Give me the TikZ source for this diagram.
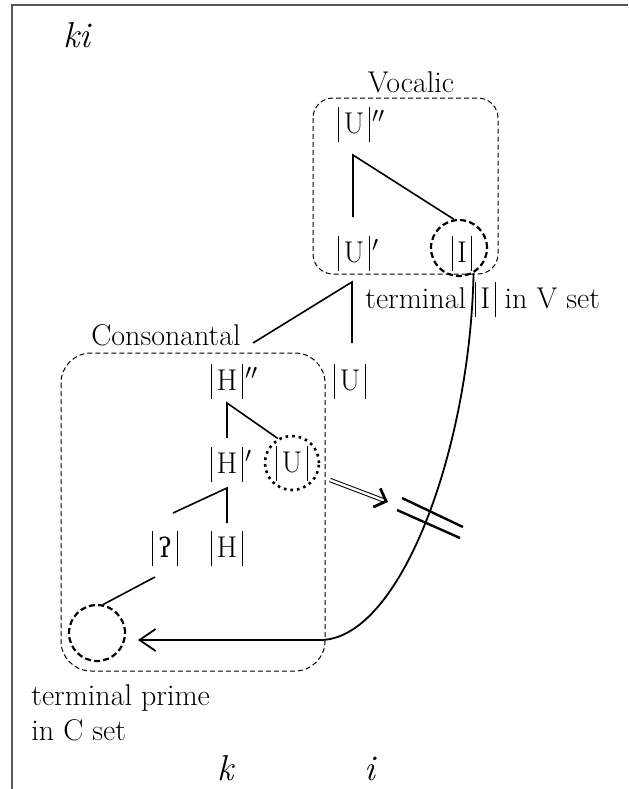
\documentclass[tikz,border=0pt]{standalone}
\usepackage{fontspec}
\newfontfamily\ipafont{DejaVu Serif}
\usetikzlibrary{arrows.meta}
\newcommand{\sbar}{\rule[-4.5pt]{0.45pt}{17.5pt}}
\newcommand{\elem}[1]{\sbar\kern2.2pt#1\kern2.2pt\sbar}
\begin{document}
\begin{tikzpicture}[x=0.5pt,y=-0.5pt,
	every node/.style={font=\fontsize{15}{17}\selectfont,inner sep=0pt},
	lbl/.style={anchor=base},
	seg/.style={anchor=base},
	word/.style={anchor=base,font=\fontsize{18}{20}\selectfont\itshape},
	setbox/.style={draw,dash pattern=on 2.5pt off 1.5pt,line width=0.5pt},
	ring/.style={circle,draw,line width=1.1pt,dash pattern=on 3pt off 1.6pt,minimum size=28pt},
	dotring/.style={circle,draw,line width=1.3pt,dotted,minimum size=27pt},
	branch/.style={line width=0.8pt}]
		\useasboundingbox (0,0) rectangle (628,789);
		\draw [gray!70!black,line width=1pt] (12,789) -- (12,5) -- (628,5);
		\node[word] (ki) at (77,47) {ki};
		% vocalic set
		\draw[setbox,rounded corners=10pt] (313,98) rectangle (498,274);
		\node[lbl] (vocalic) at (411,92) {Vocalic};
		\node[seg] (Uvv) at (354,133) {\elem{U}\rlap{\kern1.2pt$''$}};
		\node[seg] (Uv) at (354,262) {\elem{U}\rlap{\kern1.2pt$'$}};
		\node[seg] (I) at (462,262) {\elem{I}};
		\node[ring] (Iring) at (459,248) {};
		\node[lbl,anchor=base west] (termI) at (365,308) {terminal \elem{I} in V set};
		\coordinate (Uvv-b) at (353,155);
		\coordinate (Uv-t) at (353,217);
		\draw[branch] (Uv-t) -- (Uvv-b) -- (Iring.100);
		\coordinate (Uv-b) at (352,282);
		\coordinate (Ur-t) at (352,343);
		\coordinate (cons-t) at (253,343);
		\draw[branch] (Ur-t) -- (Uv-b) -- (cons-t);
		% consonantal set
		\draw[setbox,rounded corners=15pt] (61,353) rectangle (325,671);
		\node[lbl] (cons) at (166,345) {Consonantal};
		\node[seg] (Ur) at (350,390) {\elem{U}};
		\node[seg] (Hvv) at (227,390) {\elem{H}\rlap{\kern1.2pt$''$}};
		\node[seg] (Hv) at (227,473) {\elem{H}\rlap{\kern1.2pt$'$}};
		\node[seg] (Uc) at (292,472) {\elem{U}};
		\node[dotring] (Uring) at (292,463) {};
		\node[seg] (glot) at (165,557) {\elem{\ipafont\fontsize{13.5}{15}\selectfont ʔ}};
		\node[seg] (H) at (227,557) {\elem{H}};
		\node[ring] (Crng) at (97,633) {};
		\coordinate (Hvv-b) at (227,403);
		\coordinate (Hv-t) at (227,438);
		\draw[branch] (Hv-t) -- (Hvv-b) -- (Uring.120);
		\coordinate (Hv-b) at (227,488);
		\coordinate (H-t) at (227,523);
		\coordinate (glot-t) at (173,513);
		\draw[branch] (H-t) -- (Hv-b) -- (glot-t);
		\coordinate (glot-b) at (155,577);
		\draw[branch] (glot-b) -- (Crng.78);
		% blocked spreading
		\coordinate (blockS) at (330,480);
		\coordinate (blockE) at (388,502);
		\draw[double,double distance=1.2pt,line width=0.5pt,-{Straight Barb[length=5pt,width=10pt,line width=1.4pt]}] (blockS) -- (blockE);
		\draw[line width=1.2pt] (402,498) -- (463,527);
		\draw[line width=1.2pt] (397,510) -- (460,538);
		\coordinate (tipC) at (138,640);
		\draw[line width=0.9pt,-{Straight Barb[length=8pt,width=11pt]}] (Iring.-60) .. controls (470,450) and (400,640) .. (320,640) -- (tipC);
		% labels below
		\node[lbl,anchor=base west] (termC) at (31,705) {terminal prime};
		\node[lbl,anchor=base west] (inC) at (31,740) {in C set};
		\node[word] (k) at (226,780) {k};
		\node[word] (i) at (370,780) {i};
	\end{tikzpicture}
\end{document}
